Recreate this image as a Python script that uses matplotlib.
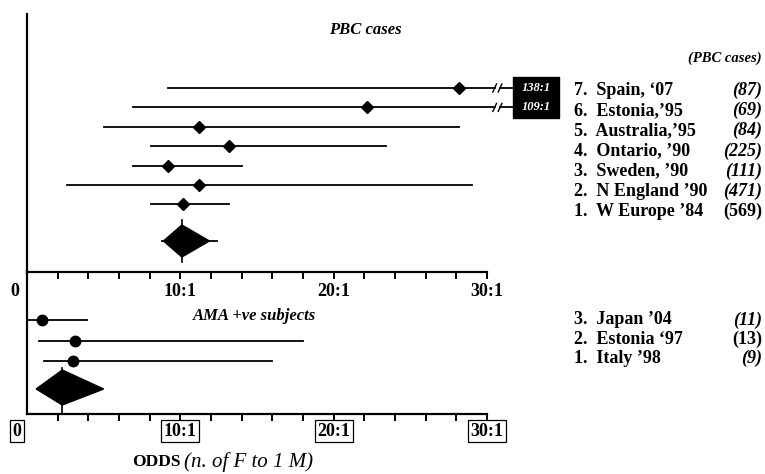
"""Forest plot of female-to-male odds in PBC cases and AMA positive subjects."""

import matplotlib

matplotlib.use("Agg")
import matplotlib.pyplot as plt
from matplotlib.patches import Polygon, Rectangle

plt.rcParams["font.family"] = ["Liberation Serif", "DejaVu Serif"]

# --- data ------------------------------------------------------------------
pbc_studies = ["7.  Spain, \u201807", "6.  Estonia,\u201995", "5.  Australia,\u201995",
               "4.  Ontario, \u201990", "3.  Sweden, \u201990", "2.  N England \u201990",
               "1.  W Europe \u201984"]
pbc_counts = ["(87)", "(69)", "(84)", "(225)", "(111)", "(471)", "(569)"]
pbc_count_italic = [True, True, True, True, True, True, False]
pbc_odds = [28.2, 22.2, 11.2, 13.2, 9.2, 11.2, 10.2]
pbc_low = [9.2, 6.9, 5.0, 8.1, 6.9, 2.6, 8.1]
pbc_high = [138, 109, 28.2, 23.4, 14.0, 29.0, 13.2]
pbc_pooled = 10.1
pbc_pooled_low, pbc_pooled_high = 8.9, 11.9
pbc_pooled_ci = (8.8, 12.4)

ama_studies = ["3.  Japan \u201904", "2.  Estonia \u201897", "1.  Italy \u201998"]
ama_counts = ["(11)", "(13)", "(9)"]
ama_count_italic = [True, False, True]
ama_odds = [1.0, 3.1, 3.0]
ama_low = [0.0, 0.8, 1.1]
ama_high = [3.9, 18.0, 16.0]
ama_pooled = 2.3
ama_pooled_low, ama_pooled_high = 0.6, 5.0

tick_values = [0, 10, 20, 30]
tick_labels = ["0", "10:1", "20:1", "30:1"]
axis_max = 30

# --- layout (pixels of a 765 x 474 canvas) ---------------------------------
W, H = 765, 474
X0, X1 = 27, 487
TOP, MID, BOT = 14, 272, 414

fig = plt.figure(figsize=(W / 100, H / 100), dpi=100)


def add_axes_px(left, top, right, bottom):
    return fig.add_axes([left / W, 1 - bottom / H, (right - left) / W, (bottom - top) / H])


ax_top = add_axes_px(X0, TOP, X1, MID)
ax_bot = add_axes_px(X0, MID, X1, BOT)
overlay = fig.add_axes([0, 0, 1, 1])
overlay.set_xlim(0, W)
overlay.set_ylim(H, 0)
overlay.axis("off")
overlay.patch.set_alpha(0)

for ax, (y_top, y_bot) in ((ax_top, (TOP, MID)), (ax_bot, (MID, BOT))):
    ax.set_xlim(0, axis_max)
    ax.set_ylim(y_bot, y_top)
    ax.patch.set_alpha(0)
    for side in ("top", "right"):
        ax.spines[side].set_visible(False)
    ax.spines["left"].set_linewidth(1.6)
    ax.spines["bottom"].set_linewidth(1.6)
    ax.set_yticks([])
    ax.set_xticks(range(2, axis_max + 1, 2))
    ax.set_xticklabels([])
    ax.tick_params(axis="x", direction="out", length=5, width=1.4)

LW = 1.3
DIAM = dict(marker="D", markersize=5.8, color="black")
CIRC = dict(marker="o", markersize=7.5, color="black")

# --- upper panel: PBC cases -------------------------------------------------
row_y = [88 + i * 19.4 for i in range(len(pbc_studies))]
break_x, resume_x, box_x0, box_x1 = 30.5, 30.85, 31.7, 34.7
boxed_rows = []
for y, lo, hi, odd in zip(row_y, pbc_low, pbc_high, pbc_odds):
    if hi > axis_max:
        ax_top.plot([lo, break_x], [y, y], color="black", lw=LW, clip_on=False)
        ax_top.plot([resume_x, box_x0], [y, y], color="black", lw=LW, clip_on=False)
        for bx in (break_x, resume_x):
            ax_top.plot([bx - 0.12, bx + 0.12], [y + 4, y - 4], color="black", lw=1.0,
                        clip_on=False)
        boxed_rows.append((y, hi))
    else:
        ax_top.plot([lo, hi], [y, y], color="black", lw=LW)
    ax_top.plot([odd], [y], **DIAM, clip_on=False)

if boxed_rows:
    ys = [r[0] for r in boxed_rows]
    ax_top.add_patch(Rectangle((box_x0, min(ys) - 11), box_x1 - box_x0, max(ys) - min(ys) + 22,
                               facecolor="black", edgecolor="black", clip_on=False))
    for y, hi in boxed_rows:
        ax_top.text((box_x0 + box_x1) / 2, y, f"{hi}:1", color="white", fontsize=9,
                    fontweight="bold", fontstyle="italic", ha="center", va="center",
                    clip_on=False)

pooled_y = 241
ax_top.plot(pbc_pooled_ci, [pooled_y, pooled_y], color="black", lw=LW)
ax_top.plot([pbc_pooled, pbc_pooled], [pooled_y - 21, pooled_y + 21], color="black", lw=1.2)
ax_top.add_patch(Polygon([(pbc_pooled_low, pooled_y), (pbc_pooled, pooled_y - 16),
                          (pbc_pooled_high, pooled_y), (pbc_pooled, pooled_y + 16)],
                         closed=True, facecolor="black", edgecolor="black"))

# --- lower panel: AMA positive subjects ------------------------------------
ama_y = [320 + i * 20.5 for i in range(len(ama_studies))]
for y, lo, hi, odd in zip(ama_y, ama_low, ama_high, ama_odds):
    ax_bot.plot([lo, hi], [y, y], color="black", lw=LW, clip_on=False)
    ax_bot.plot([odd], [y], **CIRC, clip_on=False)

ama_pool_y = 389
ax_bot.plot([ama_pooled, ama_pooled], [ama_pool_y - 21, BOT], color="black", lw=1.2)
ax_bot.add_patch(Polygon([(ama_pooled_low, ama_pool_y), (ama_pooled, ama_pool_y - 19),
                          (ama_pooled_high, ama_pool_y), (ama_pooled, ama_pool_y + 16)],
                         closed=True, facecolor="black", edgecolor="black", clip_on=False))

# --- tick labels ------------------------------------------------------------
def data_to_px(v):
    return X0 + (X1 - X0) * v / axis_max


for v, lab in zip(tick_values, tick_labels):
    shift = -12 if v == 0 else 0
    overlay.text(data_to_px(v) + shift, 292, lab, fontsize=13, fontweight="bold",
                 ha="center", va="center")
    shift = -10 if v == 0 else 0
    overlay.text(data_to_px(v) + shift, 431, lab, fontsize=13, fontweight="bold",
                 ha="center", va="center",
                 bbox=dict(boxstyle="square,pad=0.14", facecolor="white",
                           edgecolor="black", linewidth=0.9))

# --- titles and study labels -----------------------------------------------
overlay.text(365, 30, "PBC cases", fontsize=12, fontweight="bold", fontstyle="italic",
             ha="center", va="center")
overlay.text(762, 58, "(PBC cases)", fontsize=10.5, fontweight="bold", fontstyle="italic",
             ha="right", va="center")
overlay.text(254, 316, "AMA +ve subjects", fontsize=12, fontweight="bold",
             fontstyle="italic", ha="center", va="center")

for i, (name, cnt, ital) in enumerate(zip(pbc_studies, pbc_counts, pbc_count_italic)):
    y = 90 + i * 20.3
    overlay.text(574, y, name, fontsize=13, fontweight="bold", ha="left", va="center")
    overlay.text(762, y, cnt, fontsize=13, fontweight="bold",
                 fontstyle="italic" if ital else "normal", ha="right", va="center")

for i, (name, cnt, ital) in enumerate(zip(ama_studies, ama_counts, ama_count_italic)):
    y = 320 + i * 19.3
    overlay.text(574, y, name, fontsize=13, fontweight="bold", ha="left", va="center")
    overlay.text(762, y, cnt, fontsize=13, fontweight="bold",
                 fontstyle="italic" if ital else "normal", ha="right", va="center")

overlay.text(132, 462, "ODDS", fontsize=12.5, fontweight="bold", ha="left", va="center")
overlay.text(184, 462, "(n. of F to 1 M)", fontsize=15, fontstyle="italic",
             ha="left", va="center")

fig.savefig("out.png", dpi=100)
